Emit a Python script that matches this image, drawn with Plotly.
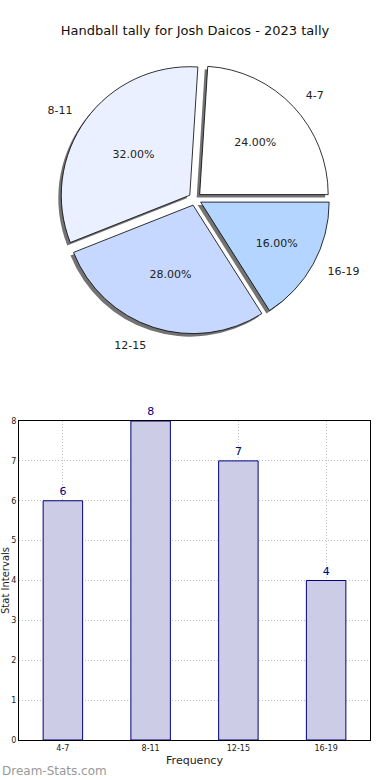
import plotly.graph_objects as go

categories = ["4-7", "8-11", "12-15", "16-19"]
counts = [6, 8, 7, 4]
pie_colors = ["#ffffff", "#eaf0ff", "#c6d8ff", "#b3d5ff"]
y_ticks = [0, 1, 2, 3, 4, 5, 6, 7, 8]

title_text = "Handball tally for Josh Daicos - 2023 tally"
x_title = "Frequency"
y_title = "Stat Intervals"
watermark = "Dream-Stats.com"

FONT = "DejaVu Sans"
W, H = 390, 780
pull = [0.05] * len(categories)

# slices run counterclockwise from 3 o'clock: draw reversed, clockwise from 3 o'clock
p_labels = categories[::-1]
p_values = counts[::-1]
p_colors = pie_colors[::-1]

cy = 1 - 199 / H
ph = 0.346
pie_dom = dict(x=[0.1, 0.9], y=[cy - ph / 2, cy + ph / 2])
sdx, sdy = 3 / W, 3 / H
shadow_dom = dict(x=[0.1 - sdx, 0.9 - sdx], y=[cy - ph / 2 - sdy, cy + ph / 2 - sdy])
lh = 0.378
lw = lh * H / W
label_dom = dict(x=[0.5 - lw / 2, 0.5 + lw / 2], y=[cy - lh / 2, cy + lh / 2])

common = dict(labels=p_labels, values=p_values, sort=False, direction="clockwise",
              rotation=90, pull=pull, showlegend=False, automargin=False)

fig = go.Figure()

# shadow
fig.add_trace(go.Pie(
    **common, domain=shadow_dom,
    marker=dict(colors=["rgba(80,80,80,0.8)"] * 4, line=dict(width=0)),
    textinfo="none", hoverinfo="skip",
))
# main pie
fig.add_trace(go.Pie(
    **common, domain=pie_dom,
    marker=dict(colors=p_colors, line=dict(color="#000000", width=0.8)),
    texttemplate="%{percent:.2%}", textposition="inside",
    insidetextorientation="horizontal",
    textfont=dict(family=FONT, size=11, color="#222222"),
))
# outside labels
fig.add_trace(go.Pie(
    **common, domain=label_dom,
    marker=dict(colors=["rgba(0,0,0,0)"] * 4, line=dict(width=0)),
    texttemplate="%{label}", textposition="outside",
    textfont=dict(family=FONT, size=11, color="#222222"),
    hoverinfo="skip",
))

fig.add_trace(go.Bar(
    x=categories, y=counts, width=0.45,
    marker=dict(color="#ccccE6", line=dict(color="#000080", width=1)),
    text=counts, textposition="outside", cliponaxis=False,
    textfont=dict(family=FONT, size=11, color="#000080"),
    xaxis="x", yaxis="y", showlegend=False,
))

grid = dict(showgrid=True, gridcolor="#c0c0c0", griddash="1px,2px", gridwidth=1,
            showline=True, mirror=True, linecolor="black", linewidth=1,
            zeroline=False, automargin=False, ticks="",
            tickfont=dict(size=8, color="#222222"))

fig.update_layout(
    template="none",
    width=W, height=H,
    margin=dict(l=0, r=0, t=0, b=0, pad=0),
    paper_bgcolor="white", plot_bgcolor="white",
    font=dict(family=FONT, color="#222222"),
    title=dict(text=title_text, x=0.5, xanchor="center", y=1 - 30 / H, yanchor="middle",
               font=dict(family=FONT, size=13, color="#111111")),
    xaxis=dict(domain=[19 / W, 370 / W], range=[-0.5, 3.5], type="category",
               title=dict(text=x_title, font=dict(size=11), standoff=4),
               anchor="y", **grid),
    yaxis=dict(domain=[1 - 740 / H, 1 - 421 / H], range=[0, 8], tickvals=y_ticks,
               title=dict(text=y_title, font=dict(size=10), standoff=4),
               anchor="x", **grid),
    annotations=[dict(text=watermark, x=0, y=0, xref="paper", yref="paper",
                      xanchor="left", yanchor="bottom", showarrow=False,
                      font=dict(family=FONT, size=12, color="#999999"))],
)

fig.write_html("out.html", config={"displayModeBar": False},
               post_script="document.body.style.margin='0px';")
